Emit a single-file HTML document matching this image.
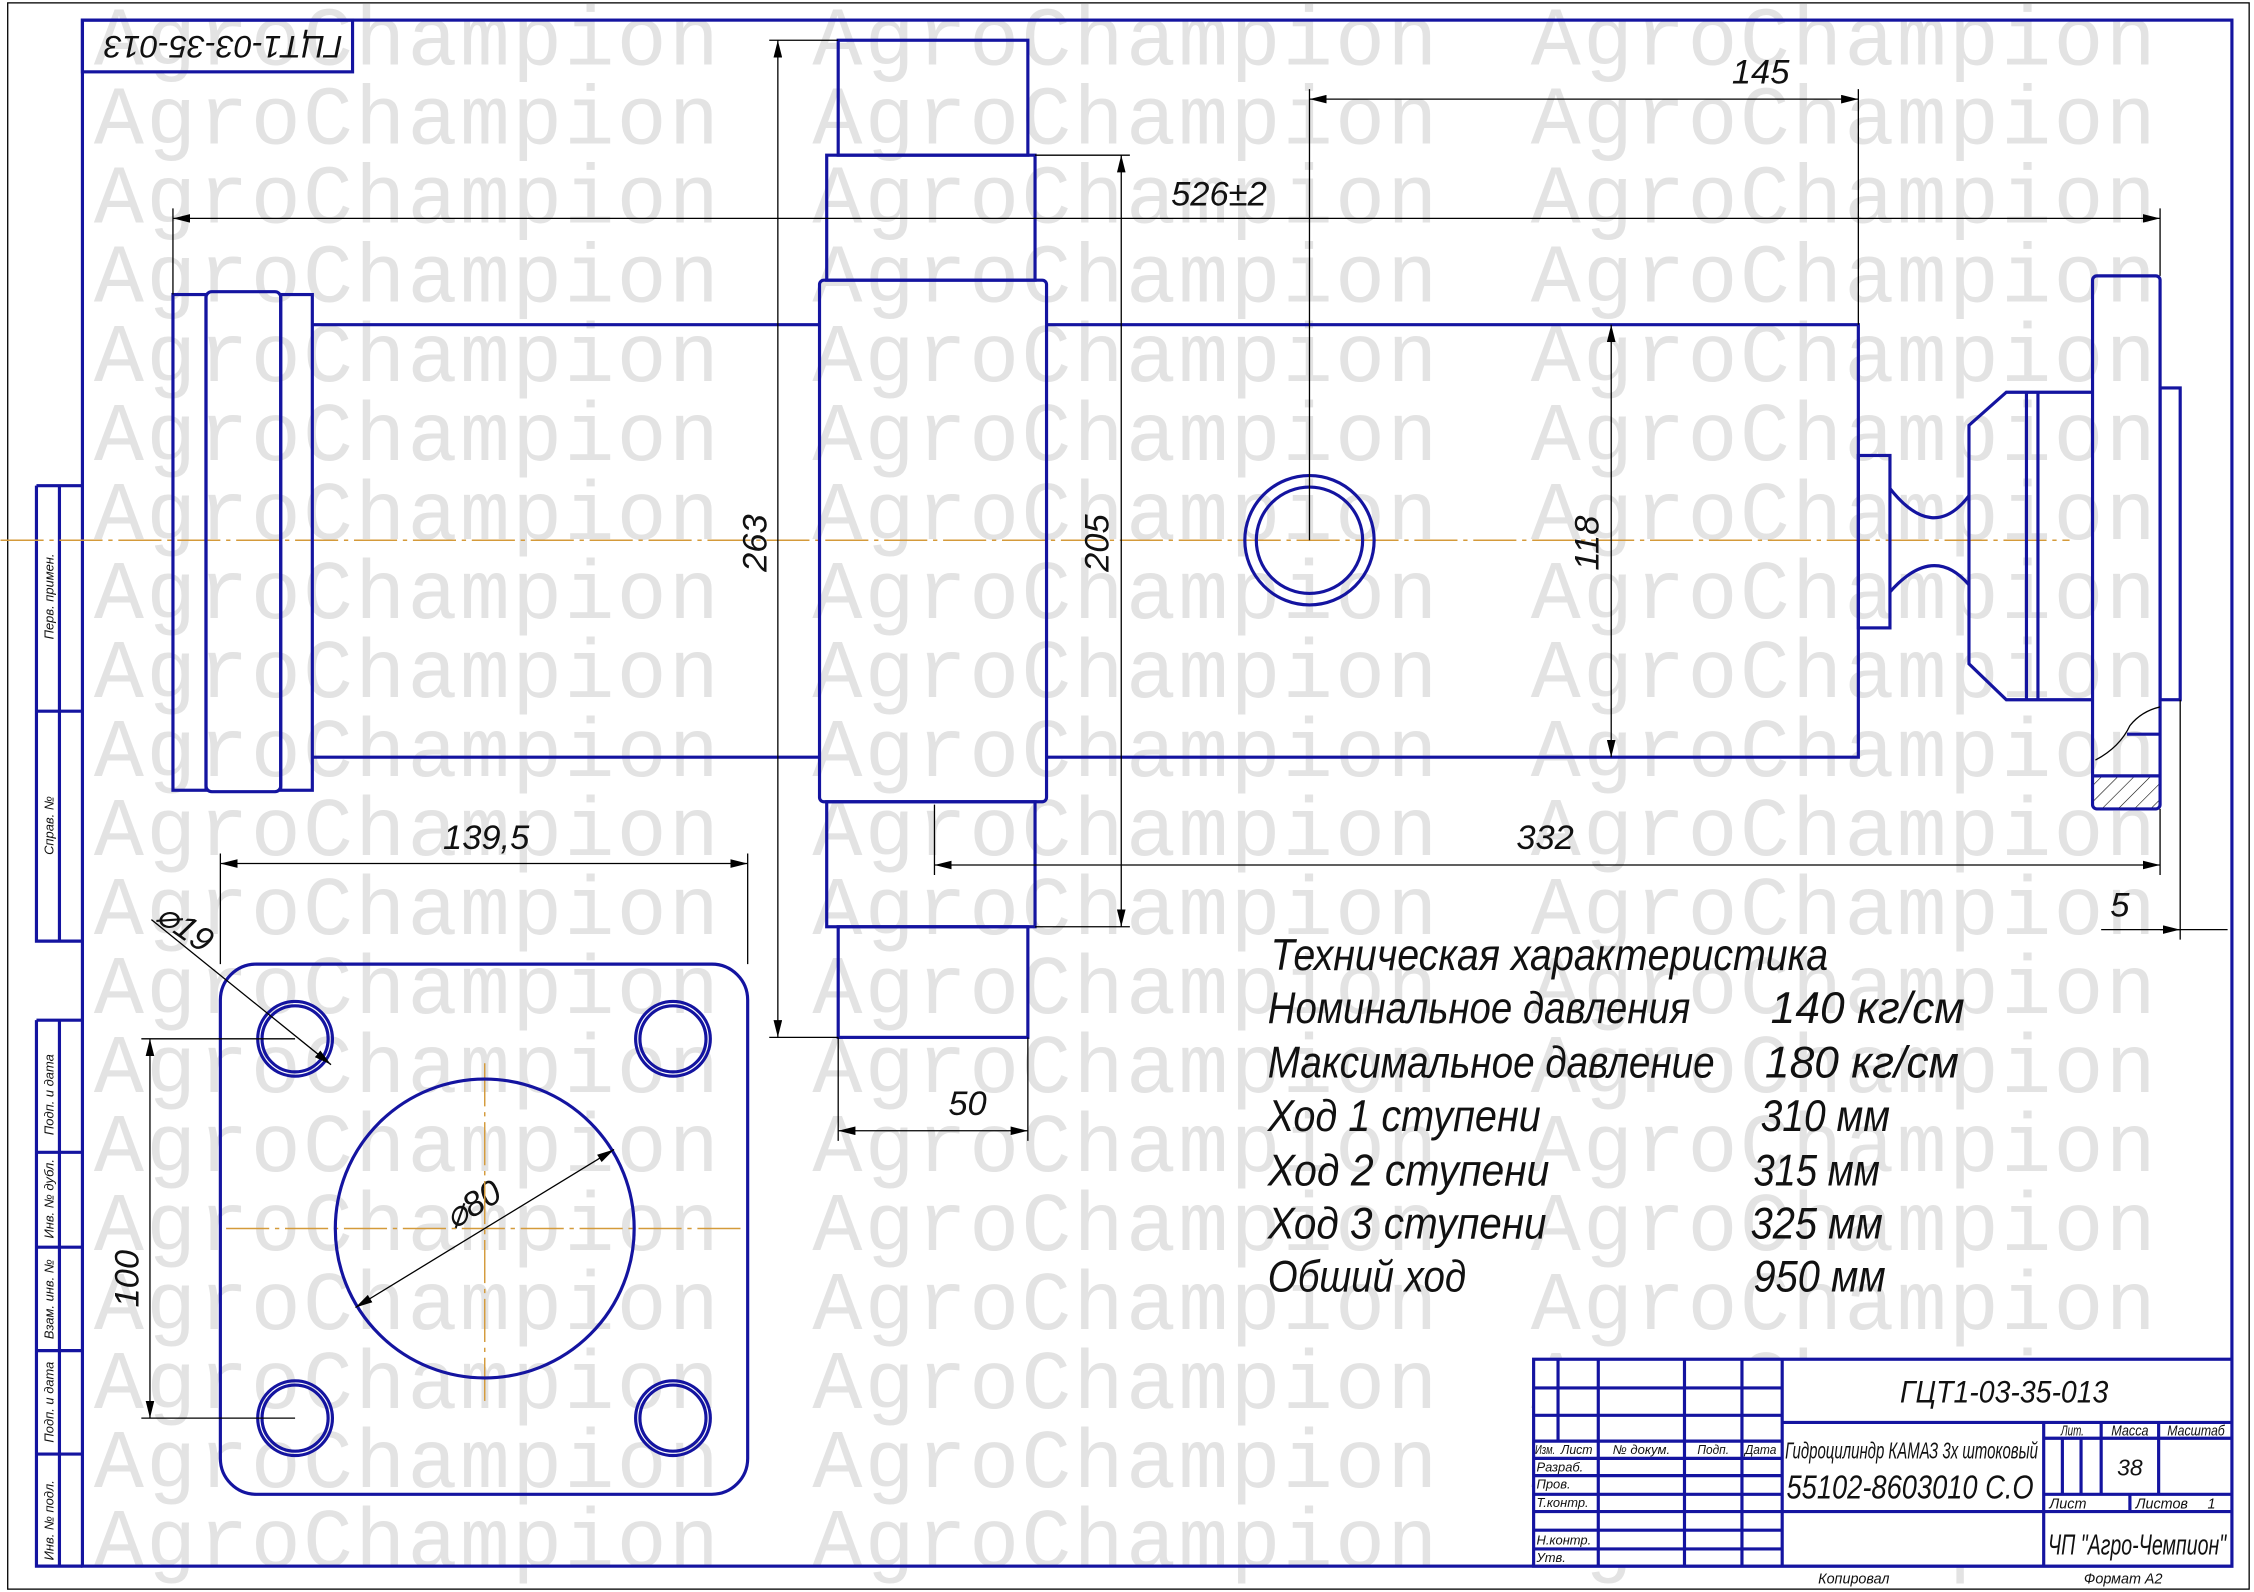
<!DOCTYPE html>
<html><head><meta charset="utf-8"><style>
html,body{margin:0;padding:0;background:#fff;}
svg{display:block;}
.b{fill:none;stroke:#1414a0;stroke-width:2.2;}
.t{fill:none;stroke:#000;stroke-width:0.9;}
.c{fill:none;stroke:#d49a3a;stroke-width:1;stroke-dasharray:30 4 3 4;}
.wm{font-family:"Liberation Mono",monospace;font-size:58px;fill:#e3e3e3;}
.d{font-family:"Liberation Sans",sans-serif;font-style:italic;font-size:24px;fill:#111;}
.s{font-family:"Liberation Sans",sans-serif;font-style:italic;fill:#111;}
</style></head><body>
<svg width="2254" height="1592" viewBox="0 0 1568 1108" xmlns="http://www.w3.org/2000/svg">
<defs>
<marker id="a" markerWidth="12" markerHeight="6" refX="12" refY="3" orient="auto-start-reverse" markerUnits="userSpaceOnUse"><path d="M0,0 L12,3 L0,6 Z" fill="#000"/></marker>
<pattern id="h" width="8" height="8" patternUnits="userSpaceOnUse" patternTransform="rotate(45)"><line x1="0" y1="0" x2="0" y2="8" stroke="#000" stroke-width="0.8"/></pattern>
</defs>
<rect width="1568" height="1108" fill="#fff"/>
<g class="wm">
<text x="65" y="45" textLength="435">AgroChampion</text><text x="565" y="45" textLength="435">AgroChampion</text><text x="1065" y="45" textLength="435">AgroChampion</text>
<text x="65" y="100" textLength="435">AgroChampion</text><text x="565" y="100" textLength="435">AgroChampion</text><text x="1065" y="100" textLength="435">AgroChampion</text>
<text x="65" y="155" textLength="435">AgroChampion</text><text x="565" y="155" textLength="435">AgroChampion</text><text x="1065" y="155" textLength="435">AgroChampion</text>
<text x="65" y="210" textLength="435">AgroChampion</text><text x="565" y="210" textLength="435">AgroChampion</text><text x="1065" y="210" textLength="435">AgroChampion</text>
<text x="65" y="265" textLength="435">AgroChampion</text><text x="565" y="265" textLength="435">AgroChampion</text><text x="1065" y="265" textLength="435">AgroChampion</text>
<text x="65" y="320" textLength="435">AgroChampion</text><text x="565" y="320" textLength="435">AgroChampion</text><text x="1065" y="320" textLength="435">AgroChampion</text>
<text x="65" y="375" textLength="435">AgroChampion</text><text x="565" y="375" textLength="435">AgroChampion</text><text x="1065" y="375" textLength="435">AgroChampion</text>
<text x="65" y="430" textLength="435">AgroChampion</text><text x="565" y="430" textLength="435">AgroChampion</text><text x="1065" y="430" textLength="435">AgroChampion</text>
<text x="65" y="485" textLength="435">AgroChampion</text><text x="565" y="485" textLength="435">AgroChampion</text><text x="1065" y="485" textLength="435">AgroChampion</text>
<text x="65" y="540" textLength="435">AgroChampion</text><text x="565" y="540" textLength="435">AgroChampion</text><text x="1065" y="540" textLength="435">AgroChampion</text>
<text x="65" y="595" textLength="435">AgroChampion</text><text x="565" y="595" textLength="435">AgroChampion</text><text x="1065" y="595" textLength="435">AgroChampion</text>
<text x="65" y="650" textLength="435">AgroChampion</text><text x="565" y="650" textLength="435">AgroChampion</text><text x="1065" y="650" textLength="435">AgroChampion</text>
<text x="65" y="705" textLength="435">AgroChampion</text><text x="565" y="705" textLength="435">AgroChampion</text><text x="1065" y="705" textLength="435">AgroChampion</text>
<text x="65" y="760" textLength="435">AgroChampion</text><text x="565" y="760" textLength="435">AgroChampion</text><text x="1065" y="760" textLength="435">AgroChampion</text>
<text x="65" y="815" textLength="435">AgroChampion</text><text x="565" y="815" textLength="435">AgroChampion</text><text x="1065" y="815" textLength="435">AgroChampion</text>
<text x="65" y="870" textLength="435">AgroChampion</text><text x="565" y="870" textLength="435">AgroChampion</text><text x="1065" y="870" textLength="435">AgroChampion</text>
<text x="65" y="925" textLength="435">AgroChampion</text><text x="565" y="925" textLength="435">AgroChampion</text><text x="1065" y="925" textLength="435">AgroChampion</text>
<text x="65" y="980" textLength="435">AgroChampion</text><text x="565" y="980" textLength="435">AgroChampion</text><text x="1065" y="980" textLength="435">AgroChampion</text>
<text x="65" y="1035" textLength="435">AgroChampion</text><text x="565" y="1035" textLength="435">AgroChampion</text><text x="1065" y="1035" textLength="435">AgroChampion</text>
<text x="65" y="1090" textLength="435">AgroChampion</text><text x="565" y="1090" textLength="435">AgroChampion</text><text x="1065" y="1090" textLength="435">AgroChampion</text>
</g>

<!-- borders -->
<rect x="5" y="2" width="1560" height="1104" class="t"/>
<rect x="57" y="14" width="1496" height="1076" class="b"/>
<rect x="57" y="14" width="188" height="36" class="b" fill="#fff"/>
<text class="s" font-size="22" transform="translate(238,25) rotate(180)" textLength="166" lengthAdjust="spacingAndGlyphs">ГЦТ1-03-35-013</text>
<!-- left stamp columns -->
<path class="b" d="M25,338 H57 M25,338 V655 H57 M41,338 V655 M25,495 H57"/>
<path class="b" d="M25,710 H57 M25,710 V1090 H57 M41,710 V1090 M25,802 H57 M25,868 H57 M25,940 H57 M25,1012 H57"/>
<g class="s" font-size="9">
<text transform="translate(37,445) rotate(-90)">Перв. примен.</text>
<text transform="translate(37,595) rotate(-90)">Справ. №</text>
<text transform="translate(37,790) rotate(-90)">Подп. и дата</text>
<text transform="translate(37,862) rotate(-90)">Инв. № дубл.</text>
<text transform="translate(37,932) rotate(-90)">Взам. инв. №</text>
<text transform="translate(37,1004) rotate(-90)">Подп. и дата</text>
<text transform="translate(37,1086) rotate(-90)">Инв. № подл.</text>
</g>

<!-- centerline -->
<line x1="0" y1="376" x2="1440" y2="376" class="c"/>

<!-- cylinder -->
<rect x="120" y="205" width="23" height="345" class="b"/>
<rect x="143" y="203" width="52" height="348" rx="4" class="b"/>
<rect x="195" y="205" width="22" height="345" class="b"/>
<path class="b" d="M217,226 H570 M217,527 H570"/>
<rect x="570" y="195" width="158" height="363" rx="3" class="b"/>
<rect x="575" y="108" width="145" height="87" class="b"/>
<rect x="583" y="28" width="132" height="80" class="b"/>
<rect x="575" y="558" width="145" height="87" class="b"/>
<rect x="583" y="645" width="132" height="77" class="b"/>
<path class="b" d="M728,226 H1293 V527 H728"/>
<circle cx="911" cy="376" r="45" class="b"/>
<circle cx="911" cy="376" r="37" class="b"/>
<!-- right end -->
<rect x="1293" y="317" width="22" height="120" class="b"/>
<path class="b" d="M1315,340 Q1345,378 1370,345 M1315,412 Q1345,378 1370,407"/>
<path class="b" d="M1370,296 L1396,273 H1410 V487 H1396 L1370,462 Z M1410,273 H1418 V487 H1410 M1418,273 H1456 M1418,487 H1456"/>
<rect x="1456" y="192" width="47" height="371" rx="3" class="b"/>
<rect x="1503" y="270" width="14" height="217" class="b"/>
<rect x="1457" y="540" width="45" height="22" fill="url(#h)"/>
<path class="b" d="M1456,540 H1503 M1480,511 H1503"/>
<path d="M1458,529 Q1475,520 1482,505 Q1490,495 1503,492" class="t"/>

<!-- dimensions -->
<g class="t">
<line x1="120" y1="152" x2="1503" y2="152" marker-start="url(#a)" marker-end="url(#a)"/>
<path d="M120,145 V205 M1503,145 V192"/>
<line x1="911" y1="69" x2="1293" y2="69" marker-start="url(#a)" marker-end="url(#a)"/>
<path d="M911,62 V376 M1293,62 V226"/>
<line x1="541" y1="28" x2="541" y2="722" marker-start="url(#a)" marker-end="url(#a)"/>
<path d="M535,28 H583 M535,722 H583"/>
<line x1="780" y1="108" x2="780" y2="645" marker-start="url(#a)" marker-end="url(#a)"/>
<path d="M720,108 H786 M720,645 H786"/>
<line x1="1121" y1="226" x2="1121" y2="527" marker-start="url(#a)" marker-end="url(#a)"/>
<line x1="650" y1="602" x2="1503" y2="602" marker-start="url(#a)" marker-end="url(#a)"/>
<path d="M650,560 V609 M1503,563 V609 M1517,487 V654"/>
<line x1="1462" y1="647" x2="1517" y2="647" marker-end="url(#a)"/>
<line x1="1550" y1="647" x2="1503" y2="647"/>
<line x1="583" y1="787" x2="715" y2="787" marker-start="url(#a)" marker-end="url(#a)"/>
<path d="M583,722 V794 M715,722 V794"/>
</g>
<g class="d">
<text x="848" y="143" text-anchor="middle">526±2</text>
<text x="1225" y="58" text-anchor="middle">145</text>
<text transform="translate(533,378) rotate(-90)" text-anchor="middle">263</text>
<text transform="translate(771,378) rotate(-90)" text-anchor="middle">205</text>
<text transform="translate(1112,378) rotate(-90)" text-anchor="middle">118</text>
<text x="1075" y="591" text-anchor="middle">332</text>
<text x="1475" y="638" text-anchor="middle">5</text>
<text x="673" y="776" text-anchor="middle">50</text>
<text x="338" y="591" text-anchor="middle">139,5</text>
<text transform="translate(96,890) rotate(-90)" text-anchor="middle">100</text>
<text transform="translate(124,652) rotate(35)" text-anchor="middle">⌀19</text>
<text transform="translate(333,845) rotate(-32)" text-anchor="middle">⌀80</text>
</g>

<!-- flange view -->
<line x1="337" y1="740" x2="337" y2="975" class="c"/>
<line x1="157" y1="855" x2="517" y2="855" class="c"/>
<rect x="153" y="671" width="367" height="369" rx="25" class="b"/>
<circle cx="337" cy="855" r="104" class="b"/>
<g class="b">
<circle cx="205" cy="723" r="26"/><circle cx="205" cy="723" r="23"/>
<circle cx="468" cy="723" r="26"/><circle cx="468" cy="723" r="23"/>
<circle cx="205" cy="987" r="26"/><circle cx="205" cy="987" r="23"/>
<circle cx="468" cy="987" r="26"/><circle cx="468" cy="987" r="23"/>
</g>
<g class="t">
<line x1="153" y1="601" x2="520" y2="601" marker-start="url(#a)" marker-end="url(#a)"/>
<path d="M153,594 V671 M520,594 V671"/>
<line x1="104" y1="723" x2="104" y2="987" marker-start="url(#a)" marker-end="url(#a)"/>
<path d="M98,723 H205 M98,987 H205"/>
<line x1="105" y1="640" x2="230" y2="741" marker-end="url(#a)"/>
<line x1="247" y1="910" x2="427" y2="800" marker-start="url(#a)" marker-end="url(#a)"/>
</g>

<!-- tech text -->
<g class="s" font-size="31">
<text x="884" y="675" textLength="388" lengthAdjust="spacingAndGlyphs">Техническая характеристика</text>
<text x="882" y="712" textLength="294" lengthAdjust="spacingAndGlyphs">Номинальное давления</text><text x="1232" y="712" textLength="135" lengthAdjust="spacingAndGlyphs">140 кг/см</text>
<text x="882" y="750" textLength="311" lengthAdjust="spacingAndGlyphs">Максимальное давление</text><text x="1228" y="750" textLength="135" lengthAdjust="spacingAndGlyphs">180 кг/см</text>
<text x="882" y="787" textLength="190" lengthAdjust="spacingAndGlyphs">Ход 1 ступени</text><text x="1225" y="787" textLength="90" lengthAdjust="spacingAndGlyphs">310 мм</text>
<text x="882" y="825" textLength="196" lengthAdjust="spacingAndGlyphs">Ход 2 ступени</text><text x="1220" y="825" textLength="88" lengthAdjust="spacingAndGlyphs">315 мм</text>
<text x="882" y="862" textLength="194" lengthAdjust="spacingAndGlyphs">Ход 3 ступени</text><text x="1218" y="862" textLength="92" lengthAdjust="spacingAndGlyphs">325 мм</text>
<text x="882" y="899" textLength="138" lengthAdjust="spacingAndGlyphs">Обший ход</text><text x="1220" y="899" textLength="92" lengthAdjust="spacingAndGlyphs">950 мм</text>
</g>

<!-- title block -->
<g class="b">
<rect x="1067" y="946" width="486" height="144" fill="#fff"/>
<path d="M1084,946 V1003 M1112,946 V1090 M1172,946 V1090 M1212,946 V1090 M1240,946 V1090"/>
<path d="M1067,966 H1240 M1067,985 H1240 M1067,1003 H1240 M1067,1015 H1240 M1067,1027 H1240 M1067,1040 H1240 M1067,1052 H1240 M1067,1065 H1240 M1067,1078 H1240"/>
<path d="M1240,990 H1553 M1240,1052 H1422 M1422,990 V1090 M1462,990 V1040 M1502,990 V1040 M1422,1001 H1553 M1422,1040 H1553 M1422,1052 H1553 M1482,1040 V1052 M1435,1001 V1040 M1448,1001 V1040"/>
</g>
<g class="s">
<text x="1322" y="976" font-size="22" textLength="145" lengthAdjust="spacingAndGlyphs">ГЦТ1-03-35-013</text>
<text x="1242" y="1015" font-size="16" textLength="176" lengthAdjust="spacingAndGlyphs">Гидроцилиндр КАМАЗ 3х штоковый</text>
<text x="1243" y="1043" font-size="23" textLength="172" lengthAdjust="spacingAndGlyphs">55102-8603010 С.О</text>
<text x="1442" y="999" font-size="10" text-anchor="middle" textLength="16" lengthAdjust="spacingAndGlyphs">Лит.</text>
<text x="1482" y="999" font-size="10" text-anchor="middle" textLength="26" lengthAdjust="spacingAndGlyphs">Масса</text>
<text x="1528" y="999" font-size="10" text-anchor="middle" textLength="40" lengthAdjust="spacingAndGlyphs">Масштаб</text>
<text x="1482" y="1027" font-size="16" text-anchor="middle">38</text>
<text x="1426" y="1050" font-size="10">Лист</text>
<text x="1486" y="1050" font-size="10">Листов</text><text x="1536" y="1050" font-size="10">1</text>
<text x="1425" y="1082" font-size="20" textLength="124" lengthAdjust="spacingAndGlyphs">ЧП "Агро-Чемпион"</text>
<g font-size="9">
<text x="1068" y="1012" textLength="14" lengthAdjust="spacingAndGlyphs">Изм.</text><text x="1086" y="1012" textLength="22" lengthAdjust="spacingAndGlyphs">Лист</text><text x="1122" y="1012" textLength="40" lengthAdjust="spacingAndGlyphs">№ докум.</text><text x="1181" y="1012" textLength="22" lengthAdjust="spacingAndGlyphs">Подп.</text><text x="1214" y="1012" textLength="22" lengthAdjust="spacingAndGlyphs">Дата</text>
<text x="1069" y="1024">Разраб.</text><text x="1069" y="1036">Пров.</text><text x="1069" y="1049">Т.контр.</text>
<text x="1069" y="1075">Н.контр.</text><text x="1069" y="1087">Утв.</text>
</g>
<text x="1265" y="1102" font-size="10">Копировал</text>
<text x="1450" y="1102" font-size="10">Формат    А2</text>
</g>
</svg>
</body></html>
